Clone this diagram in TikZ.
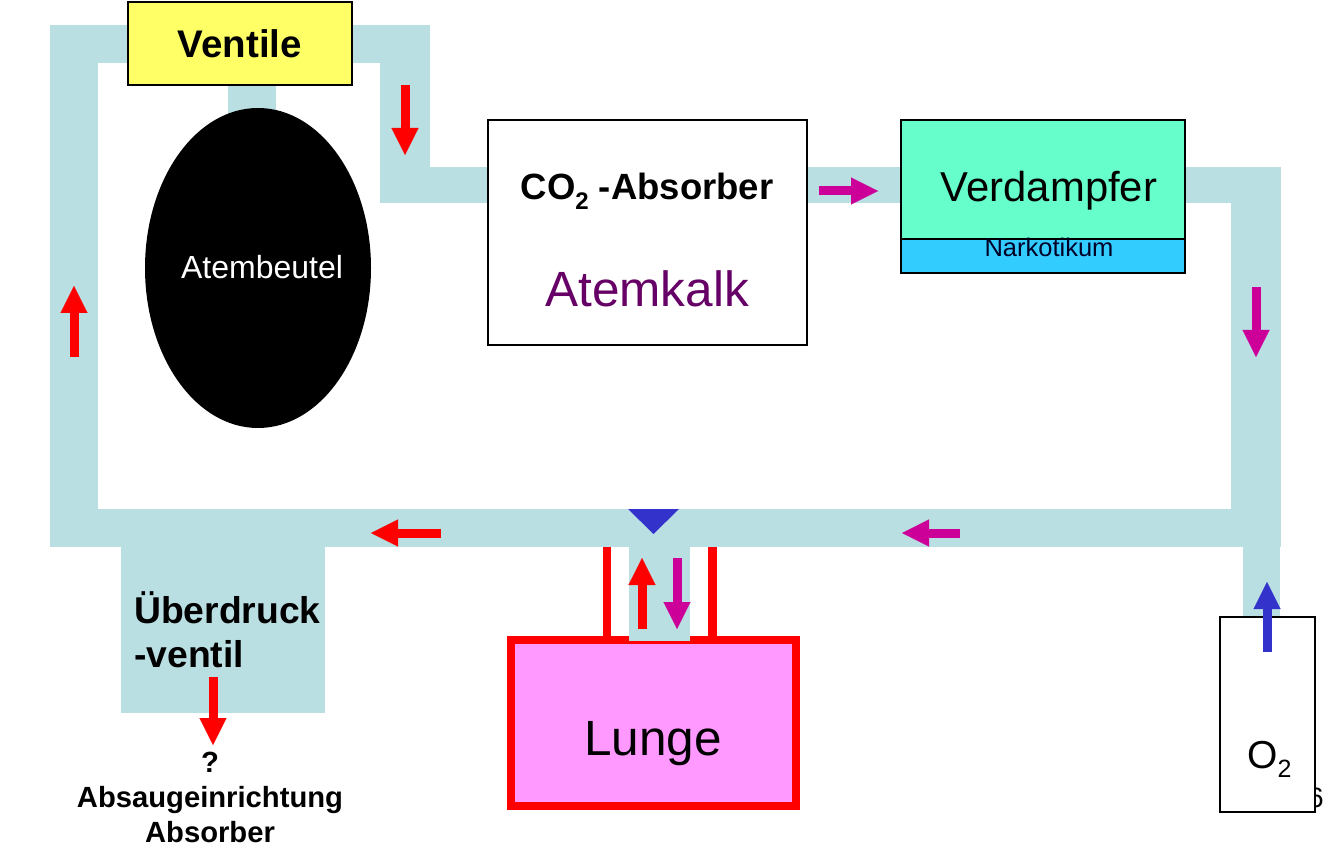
\documentclass[tikz,border=0pt]{standalone}
\usepackage{fontspec}
\setmainfont{Liberation Sans}
\usetikzlibrary{arrows.meta,shapes.geometric}
\definecolor{pipe}{RGB}{185,223,227}
\definecolor{ventilc}{RGB}{255,255,102}
\definecolor{verdc}{RGB}{102,255,204}
\definecolor{narkc}{RGB}{51,204,255}
\definecolor{lungc}{RGB}{255,153,255}
\definecolor{flowred}{RGB}{255,0,0}
\definecolor{flowmag}{RGB}{204,0,153}
\definecolor{flowblue}{RGB}{51,51,204}
\definecolor{kalkc}{RGB}{102,0,102}
\tikzset{
  pipefill/.style={fill=pipe},
  boxline/.style={draw=black,line width=2pt},
  flow/.style={line width=9pt,-{Triangle[length=27pt,width=27pt,line width=0.1pt]}},
  lbl/.style={anchor=base,inner sep=0pt},
}
\begin{document}
\begin{tikzpicture}[x=1pt,y=-1pt]
\useasboundingbox (0,0) rectangle (1344,858);
% pipes
\fill[pipefill] (50,25) rectangle (430,63);
\fill[pipefill] (50,25) rectangle (98,547);
\fill[pipefill] (50,509) rectangle (1281,547);
\fill[pipefill] (380,25) rectangle (430,203);
\fill[pipefill] (380,167) rectangle (488,203);
\fill[pipefill] (807,167) rectangle (901,203);
\fill[pipefill] (1185,167) rectangle (1281,203);
\fill[pipefill] (1231,167) rectangle (1281,547);
\fill[pipefill] (1243,547) rectangle (1280,617);
\fill[pipefill] (228,80) rectangle (276,130);
\fill[pipefill] (121,547) rectangle (325,713);
% Ventile
\node[boxline,fill=ventilc,minimum width=224pt,minimum height=83pt,inner sep=0pt,
      font=\fontsize{38.5}{46}\selectfont\bfseries] (ventile) at (240,43.5) {Ventile};
% Atembeutel
\node[ellipse,fill=black,minimum width=226pt,minimum height=320pt,inner sep=0pt] (beutel) at (258,268) {};
\node[lbl,text=white,font=\fontsize{32}{38}\selectfont] (beuteltext) at (262,279) {Atembeutel};
% CO2 absorber
\node[boxline,fill=white,minimum width=319pt,minimum height=225pt,inner sep=0pt] (absorber) at (647.5,232.5) {};
\node[lbl,font=\fontsize{36.5}{44}\selectfont\bfseries] (co2) at (647,200)
  {CO\raisebox{-10pt}{\fontsize{24}{28}\selectfont 2} -Absorber};
\node[lbl,text=kalkc,font=\fontsize{49.5}{59}\selectfont] (kalk) at (647,307) {Atemkalk};
% Verdampfer
\fill[verdc] (901,120) rectangle (1185,239);
\fill[narkc] (901,239) rectangle (1185,273);
\draw[boxline] (901,120) rectangle (1185,273);
\draw[boxline] (901,239) -- (1185,239);
\node[lbl,font=\fontsize{41.8}{50}\selectfont] (verd) at (1049,202) {Verdampfer};
\node[lbl,text=black!85!blue,font=\fontsize{25.5}{30}\selectfont] (nark) at (1049,257) {Narkotikum};
% Lunge
\draw[line width=8pt,draw=flowred,fill=lungc] (511,640) rectangle (796,806);
\fill[flowred] (603,547) rectangle (611,640);
\fill[flowred] (708,547) rectangle (717,640);
\fill[pipefill] (629,547) rectangle (690,641);
\node[lbl,font=\fontsize{49.5}{59}\selectfont] (lunge) at (653,755) {Lunge};
\fill[flowblue] (628,509) -- (679,509) -- (653.5,534) -- cycle;
% O2
\node[anchor=base west,inner sep=0pt,font=\fontsize{28}{34}\selectfont] (six) at (1308,807) {6};
\draw[boxline,fill=white] (1220,617) rectangle (1315,812);
\node[anchor=base west,inner sep=0pt,font=\fontsize{39}{46}\selectfont] (o2) at (1247,768)
  {O\raisebox{-9pt}{\fontsize{25}{30}\selectfont 2}};
% Ueberdruck
\node[anchor=base west,inner sep=0pt,font=\fontsize{37.3}{44}\selectfont\bfseries] (ueber) at (134,623) {Überdruck};
\node[anchor=base west,inner sep=0pt,font=\fontsize{37.3}{44}\selectfont\bfseries] (ventil2) at (134,667) {-ventil};
\node[lbl,font=\fontsize{29.2}{35}\selectfont\bfseries] (q) at (210,772) {?};
\node[lbl,font=\fontsize{29.2}{35}\selectfont\bfseries] (absaug) at (210,807) {Absaugeinrichtung};
\node[lbl,font=\fontsize{29.2}{35}\selectfont\bfseries] (absorb) at (210,842) {Absorber};
% flow arrows
\coordinate (a1s) at (405,85);   \coordinate (a1e) at (405,155);
\coordinate (a2s) at (74,357);   \coordinate (a2e) at (74,286);
\coordinate (a3s) at (441,533);  \coordinate (a3e) at (371,533);
\coordinate (a4s) at (960,533);  \coordinate (a4e) at (902,533);
\coordinate (a5s) at (819,191);  \coordinate (a5e) at (878,191);
\coordinate (a6s) at (1256,287); \coordinate (a6e) at (1256,357);
\coordinate (a7s) at (642,629);  \coordinate (a7e) at (642,558);
\coordinate (a8s) at (677,558);  \coordinate (a8e) at (677,629);
\coordinate (a9s) at (1267,652); \coordinate (a9e) at (1267,582);
\coordinate (a10s) at (213,677); \coordinate (a10e) at (213,745);
\draw[flow,draw=flowred] (a1s) -- (a1e);
\draw[flow,draw=flowred] (a2s) -- (a2e);
\draw[flow,draw=flowred] (a3s) -- (a3e);
\draw[flow,draw=flowmag] (a4s) -- (a4e);
\draw[flow,draw=flowmag] (a5s) -- (a5e);
\draw[flow,draw=flowmag] (a6s) -- (a6e);
\draw[flow,draw=flowred] (a7s) -- (a7e);
\draw[flow,draw=flowmag] (a8s) -- (a8e);
\draw[flow,draw=flowblue] (a9s) -- (a9e);
\draw[flow,draw=flowred] (a10s) -- (a10e);
\end{tikzpicture}
\end{document}
